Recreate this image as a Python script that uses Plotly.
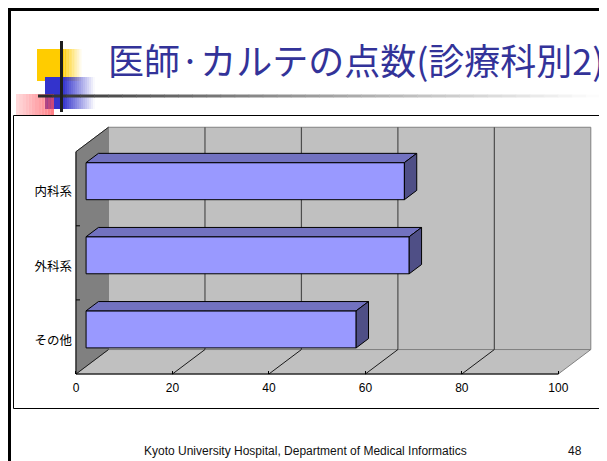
import plotly.graph_objects as go

# ---------------- data ----------------
categories = ["その他", "外科系", "内科系"]
values = [56, 67, 66]
x_ticks = [0, 20, 40, 60, 80, 100]
title_text = "医師·カルテの点数(診療科別2)"
footer_text = "Kyoto University Hospital, Department of Medical Informatics"
page_number = "48"

# ---------------- geometry / style ----------------
OFF = 8                      # page body margin of the browser
W, H = 607 - OFF, 461 - OFF
XMAX = 100
DX, DY = 6.74, 0.33          # oblique depth of the 3-D box, in data units
F0, F1 = 0.31, 0.69          # depth fractions where the bars sit
BAR_H = 0.5
SX, SY = 4.823, 74.1         # pixels per data unit
X0PX, Y0PX = 76, 374         # window pixel of x=0 and of the floor front edge
XL, XR = -1.0, XMAX + DX + 1.0
YB, YT = -0.56, 2.5 + DY + 0.06
LABEL_SHIFT = -0.045         # category labels sit slightly below band centre


def px(x):
    return (x - OFF) / W


def py(y):
    return 1 - (y - OFF) / H


def ypix(v):
    return Y0PX - (v + 0.5) * SY


JP = "Noto Sans CJK JP"
LAT = "Liberation Sans, Arial, sans-serif"

fig = go.Figure()

# ---------------- bars ----------------
ys = [i + F0 * DY for i in range(len(categories))]
ddx, ddy = (F1 - F0) * DX, (F1 - F0) * DY
x_start = F0 * DX
fig.add_trace(go.Bar(
    orientation="h", y=ys, x=values, base=x_start, width=BAR_H,
    marker=dict(color="#9999FF", line=dict(color="black", width=1)),
    hoverinfo="skip", showlegend=False,
))
for yc, v in zip(ys, values):
    top, bot = yc + BAR_H / 2, yc - BAR_H / 2
    xe = x_start + v
    # top face
    fig.add_trace(go.Scatter(
        x=[x_start, xe, xe + ddx, x_start + ddx, x_start],
        y=[top, top, top + ddy, top + ddy, top],
        mode="lines", fill="toself", fillcolor="#7272C0",
        line=dict(color="black", width=1), hoverinfo="skip", showlegend=False))
    # side face
    fig.add_trace(go.Scatter(
        x=[xe, xe, xe + ddx, xe + ddx, xe],
        y=[bot, top, top + ddy, bot + ddy, bot],
        mode="lines", fill="toself", fillcolor="#4F4F86",
        line=dict(color="black", width=1), hoverinfo="skip", showlegend=False))

shapes = []

# ---------------- slide decorations (paper coords) ----------------
def prect(x0, y0, x1, y1, fill, line_color=None, lw=0, layer="below"):
    return dict(type="rect", xref="paper", yref="paper",
                x0=px(x0), x1=px(x1), y0=py(y0), y1=py(y1),
                fillcolor=fill, line=dict(color=line_color or "rgba(0,0,0,0)", width=lw),
                layer=layer)

# chart box
shapes.append(prect(13.5, 115.5, 640, 408.5, "white", "black", 1))
# slide frame
shapes.append(dict(type="rect", xref="paper", yref="paper", x0=px(9.5), x1=px(660),
                   y0=py(9.5), y1=py(520), line=dict(color="black", width=3),
                   fillcolor="rgba(0,0,0,0)", layer="above"))

# yellow square with fade
shapes.append(prect(37, 49, 63, 81, "#FFCC00", layer="above"))
n = 12
for k in range(n):
    a = 1 - (k + 0.5) / n
    shapes.append(prect(63 + k * 19 / n, 49, 63 + (k + 1) * 19 / n, 81,
                        f"rgba(255,204,0,{a:.3f})", layer="above"))
# blue square with fade
shapes.append(prect(45, 77, 63, 109, "#3333CC", layer="above"))
n = 16
for k in range(n):
    a = 1 - (k + 0.5) / n
    shapes.append(prect(63 + k * 32 / n, 77, 63 + (k + 1) * 32 / n, 109,
                        f"rgba(51,51,204,{a:.3f})", layer="above"))
# pink rectangle with fade
n = 12
for k in range(n):
    a = 0.2 + 0.55 * (k + 0.5) / n
    shapes.append(prect(16 + k * 38 / n, 94, 16 + (k + 1) * 38 / n, 115,
                        f"rgba(255,80,90,{a:.3f})", layer="above"))
# horizontal gradient rule
n = 40
for k in range(n):
    t = (k + 0.5) / n
    c = int(40 + (255 - 40) * t ** 0.85)
    shapes.append(prect(38 + k * 562 / n, 94.5, 38 + (k + 1) * 562 / n + 0.5, 97.5,
                        f"rgb({c},{c},{c})", layer="above"))
# vertical rule
shapes.append(prect(60, 41, 63, 112, "#1E1E1E", layer="above"))

# ---------------- 3-D walls (data coords) ----------------
ylo, yhi = -0.5, 2.5


def dline(x0, y0, x1, y1, color, w=1):
    return dict(type="line", xref="x", yref="y", x0=x0, y0=y0, x1=x1, y1=y1,
                line=dict(color=color, width=w), layer="below")


# back wall
shapes.append(dict(type="rect", xref="x", yref="y", x0=DX, x1=XMAX + DX,
                   y0=ylo + DY, y1=yhi + DY, fillcolor="#C0C0C0",
                   line=dict(color="#808080", width=1), layer="below"))
# left wall
shapes.append(dict(type="path", xref="x", yref="y",
                   path=f"M 0,{ylo} L {DX},{ylo + DY} L {DX},{yhi + DY} L 0,{yhi} Z",
                   fillcolor="#808080", line=dict(color="#808080", width=1), layer="below"))
# floor
shapes.append(dict(type="path", xref="x", yref="y",
                   path=f"M 0,{ylo} L {XMAX},{ylo} L {XMAX + DX},{ylo + DY} L {DX},{ylo + DY} Z",
                   fillcolor="#C0C0C0", line=dict(color="#808080", width=1), layer="below"))
# gridlines on the back wall and the floor
for t in x_ticks:
    if 0 < t < XMAX:
        shapes.append(dline(t + DX, ylo + DY, t + DX, yhi + DY, "#4D4D4D", 1.2))
    if t < XMAX:
        shapes.append(dline(t, ylo, t + DX, ylo + DY, "#1A1A1A", 1))
# wall edges and front axes
shapes.append(dline(0, yhi, DX, yhi + DY, "#222222", 1))
shapes.append(dline(0, ylo, 0, yhi, "black", 1))
shapes.append(dline(0, ylo, XMAX, ylo, "black", 1))
# y tick marks between categories
for b in [0.5, 1.5]:
    shapes.append(dline(0, b, 4 / SX, b, "black", 1))

# ---------------- text ----------------
annotations = [
    dict(text=title_text, xref="paper", yref="paper", x=px(106), y=py(59),
         xanchor="left", yanchor="middle", showarrow=False,
         font=dict(family=JP, size=36, color="#333399")),
    dict(text=footer_text, xref="paper", yref="paper", x=px(305), y=py(451),
         xanchor="center", yanchor="middle", showarrow=False,
         font=dict(family=LAT, size=12, color="#111111")),
    dict(text=page_number, xref="paper", yref="paper", x=px(574.5), y=py(451),
         xanchor="center", yanchor="middle", showarrow=False,
         font=dict(family=LAT, size=12, color="#111111")),
]

fig.update_layout(
    width=W, height=H, autosize=False,
    margin=dict(l=0, r=0, t=0, b=0, pad=0),
    paper_bgcolor="white", plot_bgcolor="rgba(0,0,0,0)",
    showlegend=False, bargap=0,
    shapes=shapes, annotations=annotations,
    xaxis=dict(
        range=[XL, XR],
        domain=[px(X0PX + XL * SX), px(X0PX + XR * SX)],
        anchor="free", position=py(Y0PX),
        tickvals=x_ticks, ticktext=[str(t) for t in x_ticks],
        ticks="inside", ticklen=3, tickcolor="black", tickwidth=1,
        ticklabelstandoff=5,
        showgrid=False, zeroline=False, showline=False,
        tickfont=dict(family=LAT, size=12, color="black"),
        fixedrange=True,
    ),
    yaxis=dict(
        range=[YB, YT],
        domain=[py(ypix(YB)), py(ypix(YT))],
        anchor="free", position=px(X0PX),
        tickvals=[i + LABEL_SHIFT for i in range(len(categories))], ticktext=categories,
        ticks="", ticklabelstandoff=4,
        showgrid=False, zeroline=False, showline=False,
        tickfont=dict(family=JP, size=12.5, color="black"),
        fixedrange=True,
    ),
)

fig.write_html("out.html", config={"displayModeBar": False, "staticPlot": True})
